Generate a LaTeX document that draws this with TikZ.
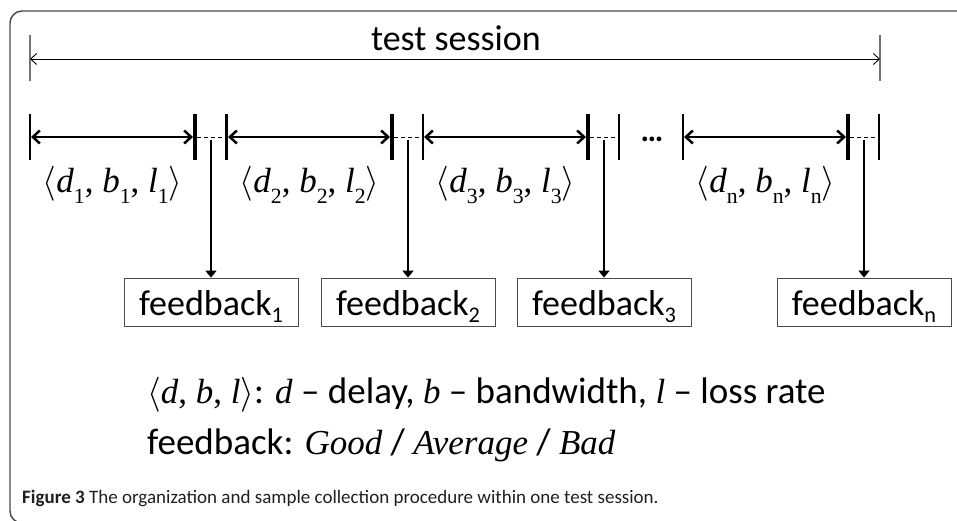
\RequirePackage{fix-cm}
\documentclass[tikz,border=0pt]{standalone}
\usepackage{graphicx}
\usepackage{fontspec}
\setmainfont{Carlito}
\newfontfamily\tnr{Liberation Serif}
\usetikzlibrary{arrows.meta}
\newcommand{\tsub}[1]{\raisebox{-0.3em}{\scalebox{0.62}{#1}}}
\newcommand{\fsub}[1]{\raisebox{-0.22em}{\scalebox{0.62}{#1}}}
\newcommand{\trip}[1]{{\tnr$\langle$\textit{d}\tsub{#1}, \textit{b}\tsub{#1}, \textit{l}\tsub{#1}$\rangle$}}
\newcommand{\ti}[1]{{\tnr\fontsize{35}{35}\selectfont\textit{#1}}}
\tikzset{
  frame/.style={draw=black!72, line width=1.4pt, rounded corners=12pt},
  sarrow/.style={line width=0.9pt, {Straight Barb[length=6pt,width=11pt]}-{Straight Barb[length=6pt,width=11pt]}},
  stick/.style={draw=black!55, line width=1.1pt},
  thintick/.style={line width=1.8pt},
  barline/.style={line width=4.2pt},
  dbl/.style={line width=2.5pt, {Straight Barb[length=7pt,width=13pt]}-{Straight Barb[length=7pt,width=13pt]}},
  dsh/.style={line width=0.8pt, dash pattern=on 4pt off 3pt},
  down/.style={line width=2.2pt, -{Triangle[length=7pt,width=11pt]}},
  fb/.style={draw=black!70, line width=0.8pt, minimum width=174pt, minimum height=48pt, inner sep=0pt,
    text height=32pt, text depth=6pt, font=\fontsize{36}{36}\selectfont},
  lab/.style={anchor=base, inner sep=0pt, font=\fontsize{35}{35}\selectfont},
  big/.style={inner sep=0pt, font=\fontsize{36}{36}\selectfont},
  legend/.style={anchor=base west, inner sep=0pt, font=\fontsize{37}{37}\selectfont},
  captext/.style={anchor=base west, inner sep=0pt, text=black!88, font=\fontsize{19}{19}\selectfont}
}
\begin{document}
\begin{tikzpicture}[x=1pt,y=-1pt]
\useasboundingbox (0,0) rectangle (957,521);
\clip (0,0) rectangle (957,521);
\draw[frame] (10,11) rectangle (1000,523);
% session arrow
\coordinate (s0) at (30,59);
\coordinate (s1) at (880,59);
\draw[stick] (30,35) -- (30,81);
\draw[stick] (880,35) -- (880,81);
\draw[sarrow] (s0) -- (s1);
\node[big, anchor=base] (ts) at (456,51) {test session};
% segments
\foreach \L/\i in {30/1, 227/2, 423/3, 683/n}{
  \coordinate (l\i) at (\L+1,137);
  \coordinate (r\i) at (\L+163,137);
  \coordinate (b\i) at (\L+167,137);
  \coordinate (t\i) at (\L+196,137);
  \draw[thintick] (\L,114) -- (\L,160);
  \draw[barline] (\L+165,114) -- (\L+165,160);
  \draw[thintick] (\L+196,114) -- (\L+196,160);
  \draw[dbl] (l\i) -- (r\i);
  \draw[dsh] (b\i) -- (t\i);
  \node[lab] (lab\i) at (\L+82.5,193) {\trip{\i}};
  \node[fb] (f\i) at (\L+181,302) {feedback\fsub{\i}};
  \coordinate (a\i) at (\L+181,140);
  \draw[down] (a\i) -- (f\i.north);
}
\node[anchor=base, inner sep=0pt, font=\fontsize{32}{32}\selectfont\bfseries] (dots) at (652,142) {\ldots};
% legend
\node[legend] (leg1) at (147,403) {{\tnr\fontsize{35}{35}\selectfont$\langle$\textit{d}, \textit{b}, \textit{l}$\rangle$}: \ti{d} – delay, \ti{b} – bandwidth, \ti{l} – loss rate};
\node[legend] (leg2) at (147,454) {feedback: \ti{Good} / \ti{Average} / \ti{Bad}};
\node[captext] (caption) at (22,503) {\textbf{Figure 3} The organization and sample collection procedure within one test session.};
\end{tikzpicture}
\end{document}
